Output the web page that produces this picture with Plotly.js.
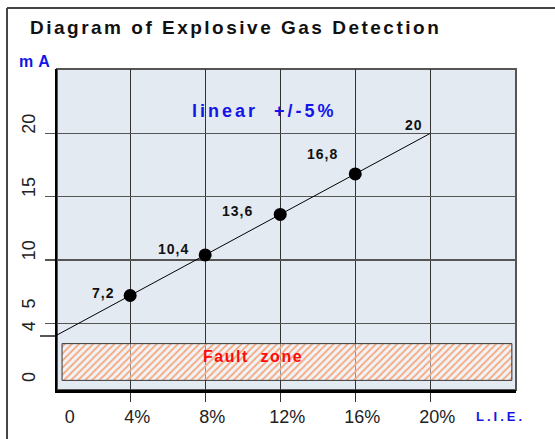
<!DOCTYPE html>
<html>
<head>
<meta charset="utf-8">
<script src="https://cdn.plot.ly/plotly-3.0.1.min.js"></script>
<style>
html, body { margin: 0; padding: 0; background: #ffffff; }
#chart { width: 555px; height: 439px; }
</style>
</head>
<body>
<div id="chart"></div>
<script>
// ---- data ----
const lieX = [0, 4, 8, 12, 16, 20];               // % L.I.E.
const mAValues = [4, 7.2, 10.4, 13.6, 16.8, 20];  // output current, mA
const xTickVals = [4, 8, 12, 16, 20];
const xTickText = ["0", "4%", "8%", "12%", "16%", "20%"];
const yTickVals = [5, 10, 15, 20];
const yTickText = ["0", "4", "5", "10", "15", "20"];
const faultMA = [0.5, 3.4];      // fault zone current band
const faultLIE = [0.37, 24.35];  // fault zone horizontal extent
const titleText = "Diagram of Explosive Gas Detection";

const FONT = "Liberation Sans, Arial, sans-serif";
const fmt = v => (Number.isInteger(v) ? String(v) : v.toFixed(1).replace('.', ','));
const sp = (t, s) => '<span style="letter-spacing:' + s + 'px">' + t + '</span>';

const xRange = [0.1, 24.57];
const yRange = [-0.26, 25.08];

const traces = [
  { // fault zone band
    x: [faultLIE[0], faultLIE[1], faultLIE[1], faultLIE[0], faultLIE[0]],
    y: [faultMA[0], faultMA[0], faultMA[1], faultMA[1], faultMA[0]],
    mode: 'lines', fill: 'toself',
    fillcolor: 'rgba(255,255,255,0)',
    fillpattern: { shape: '/', fgcolor: '#f7a77c', bgcolor: 'rgba(255,255,255,0.45)', size: 5, solidity: 0.35 },
    line: { color: '#333333', width: 1 },
    hoverinfo: 'skip', showlegend: false
  },
  { // linear characteristic
    x: lieX, y: mAValues, mode: 'lines',
    line: { color: '#000000', width: 1 },
    showlegend: false
  },
  { // measured points
    x: lieX.slice(1, -1), y: mAValues.slice(1, -1), mode: 'markers',
    marker: { color: '#000000', size: 13 },
    showlegend: false
  },
  // empty traces so the label-only overlay axes are drawn
  { x: [], y: [], xaxis: 'x2', yaxis: 'y', mode: 'markers', hoverinfo: 'skip', showlegend: false },
  { x: [], y: [], xaxis: 'x', yaxis: 'y2', mode: 'markers', hoverinfo: 'skip', showlegend: false }
];

const labelShift = [null, [-27, 3], [-32, 6], [-43, 3], [-33, 20], [-16, 8]];
const annotations = [];
for (let i = 1; i < lieX.length; i++) {
  annotations.push({
    x: lieX[i], y: mAValues[i], xref: 'x', yref: 'y', showarrow: false,
    xanchor: 'center', yanchor: 'middle',
    text: sp(fmt(mAValues[i]), 1),
    xshift: labelShift[i][0], yshift: labelShift[i][1],
    font: { family: FONT, size: 14, color: '#111111', weight: 'bold' }
  });
}
annotations.push(
  { xref: 'paper', yref: 'paper', x: 0.452, y: 0.869, showarrow: false,
    xanchor: 'center', yanchor: 'middle',
    text: sp('linear  +/-5%', 3),
    font: { family: FONT, size: 18, color: '#1515e8', weight: 'bold' } },
  { xref: 'paper', yref: 'paper', x: 0.427, y: 0.103, showarrow: false,
    xanchor: 'center', yanchor: 'middle',
    text: sp('Fault  zone', 1.5),
    font: { family: FONT, size: 16, color: '#ff0a0a', weight: 'bold' } },
  { xref: 'paper', yref: 'paper', x: -0.0436, y: 1.022, showarrow: false,
    xanchor: 'center', yanchor: 'middle',
    text: sp('mA', 5),
    font: { family: FONT, size: 16, color: '#1515e8', weight: 'bold' } },
  { xref: 'paper', yref: 'paper', x: 0.967, y: -0.081, showarrow: false,
    xanchor: 'center', yanchor: 'middle',
    text: sp('L.I.E.', 3),
    font: { family: FONT, size: 13, color: '#1515e8', weight: 'bold' } }
);

const layout = {
  width: 555, height: 439,
  margin: { l: 57, r: 39, t: 69, b: 49 },
  paper_bgcolor: '#ffffff',
  plot_bgcolor: '#e3eaf2',
  showlegend: false,
  title: {
    text: sp(titleText, 2.5),
    xref: 'container', yref: 'container', x: 0.054, xanchor: 'left',
    y: 0.938, yanchor: 'middle',
    font: { family: FONT, size: 19, color: '#111111', weight: 'bold' }
  },
  xaxis: {
    range: xRange, tickvals: xTickVals, showticklabels: false,
    ticks: 'outside', ticklen: 9, tickcolor: '#333333', tickwidth: 1,
    showgrid: true, gridcolor: '#333333', gridwidth: 1,
    zeroline: false, showline: true, linecolor: '#000000', linewidth: 2.5
  },
  xaxis2: {
    overlaying: 'x', anchor: 'y', side: 'bottom', range: xRange,
    tickvals: [0.4].concat(xTickVals), ticktext: xTickText, ticks: '',
    ticklabelshift: 7, ticklabelstandoff: 14,
    showgrid: false, zeroline: false, showline: false,
    tickfont: { family: FONT, size: 18, color: '#222222' }
  },
  yaxis: {
    range: yRange, tickvals: yTickVals, showticklabels: false,
    ticks: 'outside', ticklen: 10, tickcolor: '#555555', tickwidth: 1.5,
    showgrid: true, gridcolor: '#555555', gridwidth: 1.5,
    minor: { tickvals: [4], ticks: 'outside', ticklen: 15, tickcolor: '#555555', tickwidth: 1.5, showgrid: false },
    zeroline: false, showline: true, linecolor: '#000000', linewidth: 2.5
  },
  yaxis2: {
    overlaying: 'y', anchor: 'x', side: 'left', range: yRange,
    tickvals: [0, 4, 5.8, 10, 15, 20], ticktext: yTickText, ticks: '',
    tickangle: -90, ticklabelshift: -7, ticklabelstandoff: 17,
    showgrid: false, zeroline: false, showline: false,
    tickfont: { family: FONT, size: 18, color: '#222222' }
  },
  shapes: [
    { type: 'rect', xref: 'paper', yref: 'paper', x0: 0, x1: 1, y0: 0, y1: 1,
      line: { color: '#555555', width: 2 }, layer: 'below' },
    { type: 'line', xref: 'paper', yref: 'paper', x0: -0.1089, x1: 1.2, y0: 1.19, y1: 1.19,
      line: { color: '#444444', width: 2 } },
    { type: 'line', xref: 'paper', yref: 'paper', x0: -0.1089, x1: -0.1089, y0: 1.19, y1: -0.25,
      line: { color: '#444444', width: 2 } }
  ],
  annotations: annotations
};

Plotly.newPlot('chart', traces, layout, { staticPlot: true, displayModeBar: false });
</script>
</body>
</html>
